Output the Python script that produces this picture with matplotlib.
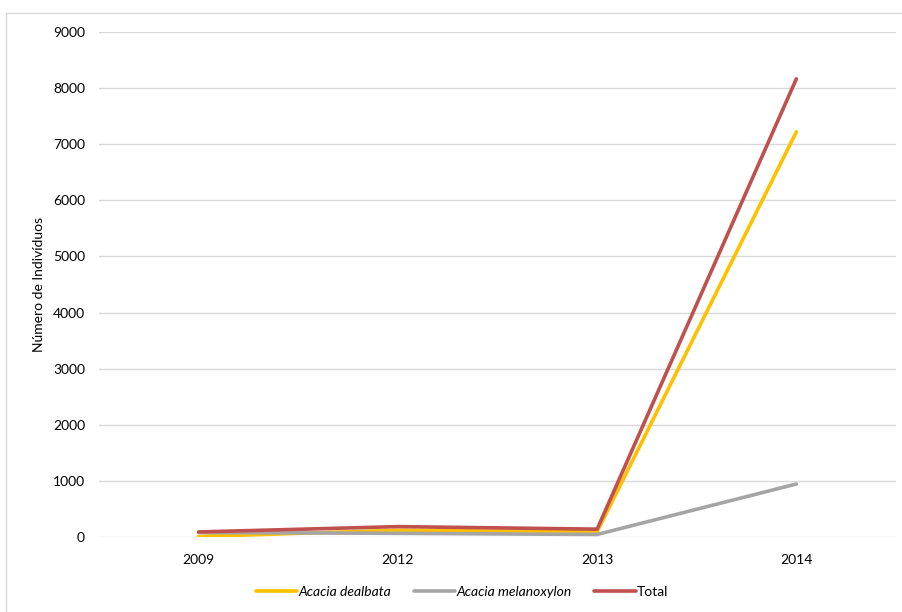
import numpy as np
import matplotlib.pyplot as plt
from matplotlib.lines import Line2D

plt.rcParams['font.family'] = ['Lato', 'DejaVu Sans']

anos = ['2009', '2012', '2013', '2014']
dealbata = [10, 120, 95, 7220]
melanoxylon = [80, 65, 45, 945]
total = [90, 185, 140, 8165]

fig = plt.figure(figsize=(9.02, 6.12), dpi=100)
ax = fig.add_axes([99 / 902, 1 - 537 / 612, 797 / 902, 505 / 612])

# moldura exterior do grafico
fig.add_artist(Line2D([6 / 902, 1.0], [1 - 13 / 612, 1 - 13 / 612],
                      transform=fig.transFigure, color='#d9d9d9', lw=1))
fig.add_artist(Line2D([6 / 902, 6 / 902], [0, 1 - 13 / 612],
                      transform=fig.transFigure, color='#d9d9d9', lw=1))

x = np.arange(len(anos))
ax.plot(x, dealbata, color='#FFC000', lw=2.6, solid_capstyle='round', label='Acacia dealbata')
ax.plot(x, melanoxylon, color='#A5A5A5', lw=2.6, solid_capstyle='round', label='Acacia melanoxylon')
ax.plot(x, total, color='#C0504D', lw=2.6, solid_capstyle='round', label='Total')

ax.set_xlim(-0.5, len(anos) - 0.5)
ax.set_ylim(0, 9000)
ax.set_yticks(np.arange(0, 9001, 1000))
ax.set_xticks(x)
ax.set_xticklabels(anos)
ax.grid(axis='y', color='#d9d9d9', lw=1)
ax.set_axisbelow(True)
for s in ax.spines.values():
    s.set_visible(False)
ax.tick_params(length=0, labelsize=10, colors='black')
ax.tick_params(axis='y', pad=10)
ax.tick_params(axis='x', pad=12)
ax.set_ylabel('Número de Indivíduos', fontsize=10, labelpad=6)

leg = ax.legend(loc='center', bbox_to_anchor=(462 / 902, 20 / 612), bbox_transform=fig.transFigure,
                ncol=3, frameon=False, fontsize=10, handlelength=3.0, handletextpad=0.1,
                columnspacing=1.6)
for t in leg.get_texts()[:2]:
    t.set_style('italic')

fig.savefig('out.png', dpi=100)
